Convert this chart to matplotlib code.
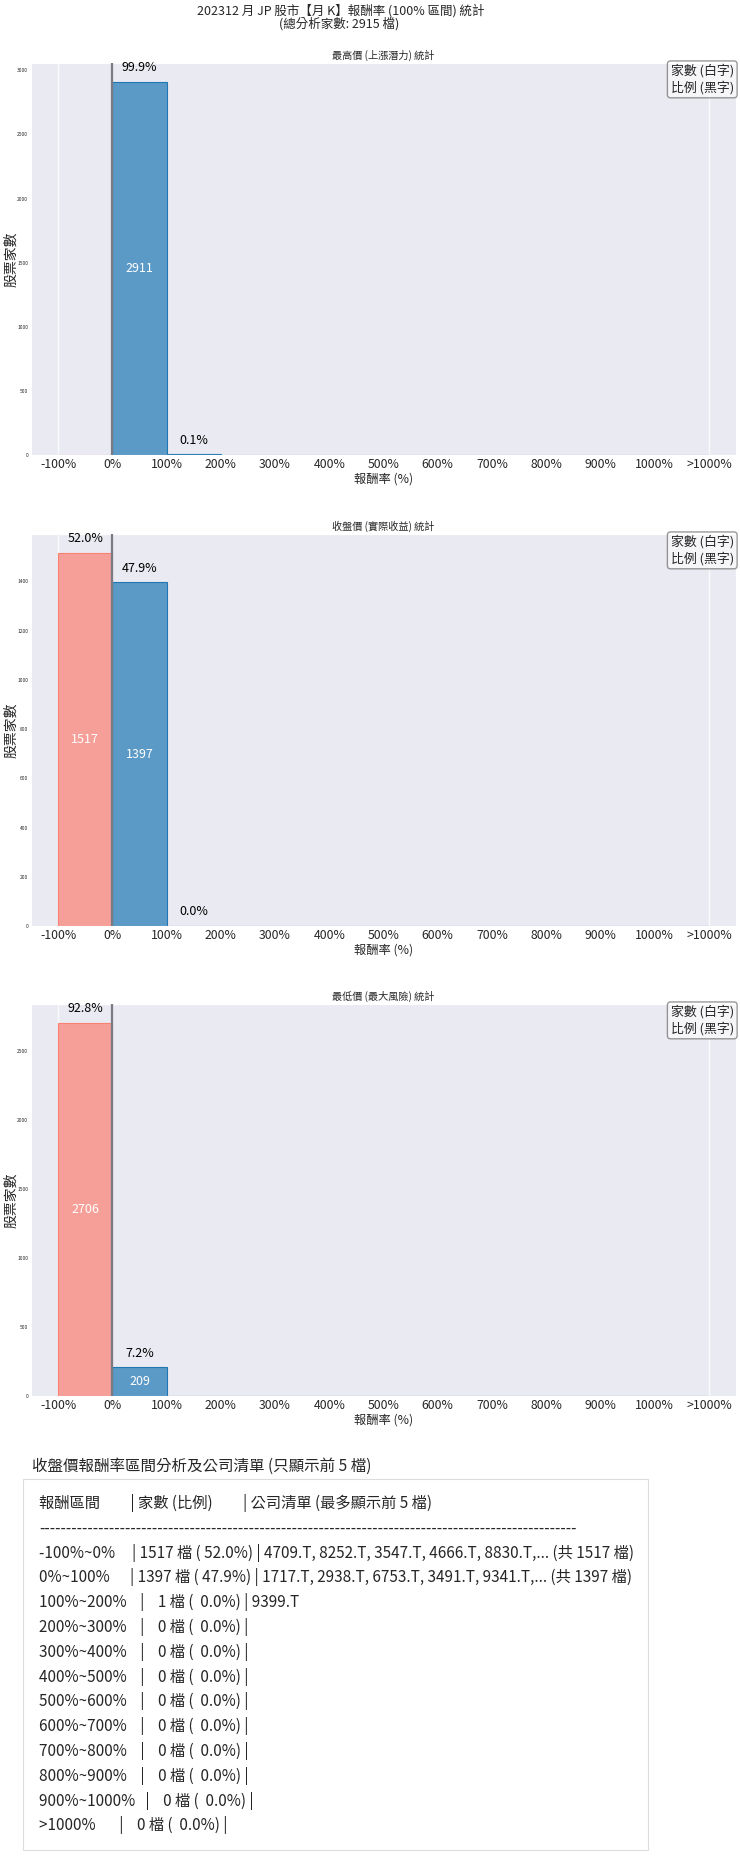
import numpy as np
import matplotlib
matplotlib.use('Agg')
import matplotlib.pyplot as plt
import seaborn as sns
from matplotlib.colors import to_rgba
from matplotlib.patches import Rectangle

sns.set_style('darkgrid')
plt.rcParams['font.family'] = ['Noto Sans CJK TC', 'DejaVu Sans']
plt.rcParams['axes.unicode_minus'] = False

# --- data ---
bin_labels = ['-100%~0%', '0%~100%', '100%~200%', '200%~300%', '300%~400%', '400%~500%',
              '500%~600%', '600%~700%', '700%~800%', '800%~900%', '900%~1000%', '>1000%']
tick_labels = ['-100%', '0%', '100%', '200%', '300%', '400%', '500%', '600%',
               '700%', '800%', '900%', '1000%', '>1000%']
total = 2915
high_counts = [0, 2911, 4, 0, 0, 0, 0, 0, 0, 0, 0, 0]
close_counts = [1517, 1397, 1, 0, 0, 0, 0, 0, 0, 0, 0, 0]
low_counts = [2706, 209, 0, 0, 0, 0, 0, 0, 0, 0, 0, 0]
close_tickers = [
    ['4709.T', '8252.T', '3547.T', '4666.T', '8830.T'],
    ['1717.T', '2938.T', '6753.T', '3491.T', '9341.T'],
    ['9399.T'],
] + [[] for _ in range(9)]

W, H = 740, 1871
fig = plt.figure(figsize=(W / 100, H / 100), dpi=100)
fig.text(341 / W, 1 - 11 / H, '202312 月 JP 股市【月 K】報酬率 (100% 區間) 統計',
         fontsize=9.0, ha='center', va='center')
fig.text(339 / W, 1 - 24 / H, '(總分析家數: {} 檔)'.format(total),
         fontsize=9.0, ha='center', va='center')

red = 'salmon'
blue = '#1f77b4'


def draw_panel(top, bottom, counts, title):
    ax = fig.add_axes([31 / W, 1 - bottom / H, 705 / W, (bottom - top) / H])
    x = np.arange(len(counts)) + 0.5
    cols = [red if i == 0 else blue for i in range(len(counts))]
    ax.bar(x, counts, width=1.0, color=[to_rgba(c, 0.7) for c in cols],
           edgecolor=cols, linewidth=0.8, zorder=2)
    mx = max(counts)
    ax.set_ylim(0, mx * 1.05)
    ax.set_xlim(-0.5, 12.5)
    ax.grid(False)
    ax.axvline(0, color='white', linewidth=1, alpha=0.8, zorder=1)
    ax.axvline(12, color='white', linewidth=1, alpha=0.8, zorder=1)
    ax.axvline(1, color='#7a7a85', linewidth=1.6, zorder=3)
    for xi, c in zip(x, counts):
        if c > 0:
            ax.text(xi, c + mx * 0.02, '{:.1f}%'.format(c / total * 100), ha='center', va='bottom',
                    fontsize=9, color='black', zorder=4)
        if c > mx * 0.05:
            ax.text(xi, c / 2, str(c), ha='center', va='center', fontsize=9,
                    color='white', zorder=4)
    ax.set_xticks(np.arange(len(tick_labels)))
    ax.set_xticklabels(tick_labels, fontsize=8.8)
    ax.tick_params(axis='y', labelsize=3.5, length=0, pad=2)
    ax.tick_params(axis='x', length=0, pad=2.5)
    ax.set_xlabel('報酬率 (%)', fontsize=8.8, labelpad=1)
    ax.set_ylabel('股票家數', fontsize=10)
    ax.yaxis.set_label_coords(-13 / 705, 0.5)
    ax.set_title(title, fontsize=7.3, pad=3)
    ax.text(0.997, 0.997, '家數 (白字)\n比例 (黑字)', transform=ax.transAxes, ha='right', va='top',
            fontsize=9.3, linespacing=1.25, zorder=5,
            bbox=dict(boxstyle='round,pad=0.25', facecolor='white', alpha=0.6, edgecolor='#555555'))
    return ax


draw_panel(63, 455, high_counts, '最高價 (上漲潛力) 統計')
draw_panel(534, 926, close_counts, '收盤價 (實際收益) 統計')
draw_panel(1004, 1396, low_counts, '最低價 (最大風險) 統計')

# --- table section ---
fig.text(32 / W, 1 - 1466 / H, '收盤價報酬率區間分析及公司清單 (只顯示前 5 檔)',
         fontsize=11.2, ha='left', va='center')
fig.patches.append(Rectangle((23 / W, 1 - 1850 / H), (648 - 23) / W, (1850 - 1479) / H,
                             transform=fig.transFigure, facecolor='white',
                             edgecolor='#dddddd', linewidth=0.8))

lines = ['報酬區間         | 家數 (比例)         | 公司清單 (最多顯示前 5 檔)', '-' * 100]
for lab, c, tk in zip(bin_labels, close_counts, close_tickers):
    s = '{:<12} | {:>4d} 檔 ({:>5.1f}%) | '.format(lab, c, c / total * 100)
    if len(tk) >= 5 and c > 5:
        s += ', '.join(tk) + ',... (共 {} 檔)'.format(c)
    else:
        s += ', '.join(tk)
    lines.append(s)

for i, s in enumerate(lines):
    fig.text(39 / W, 1 - (1503 + i * 24.8) / H, s, fontsize=11, ha='left', va='center')

fig.savefig('out.png', dpi=100)
